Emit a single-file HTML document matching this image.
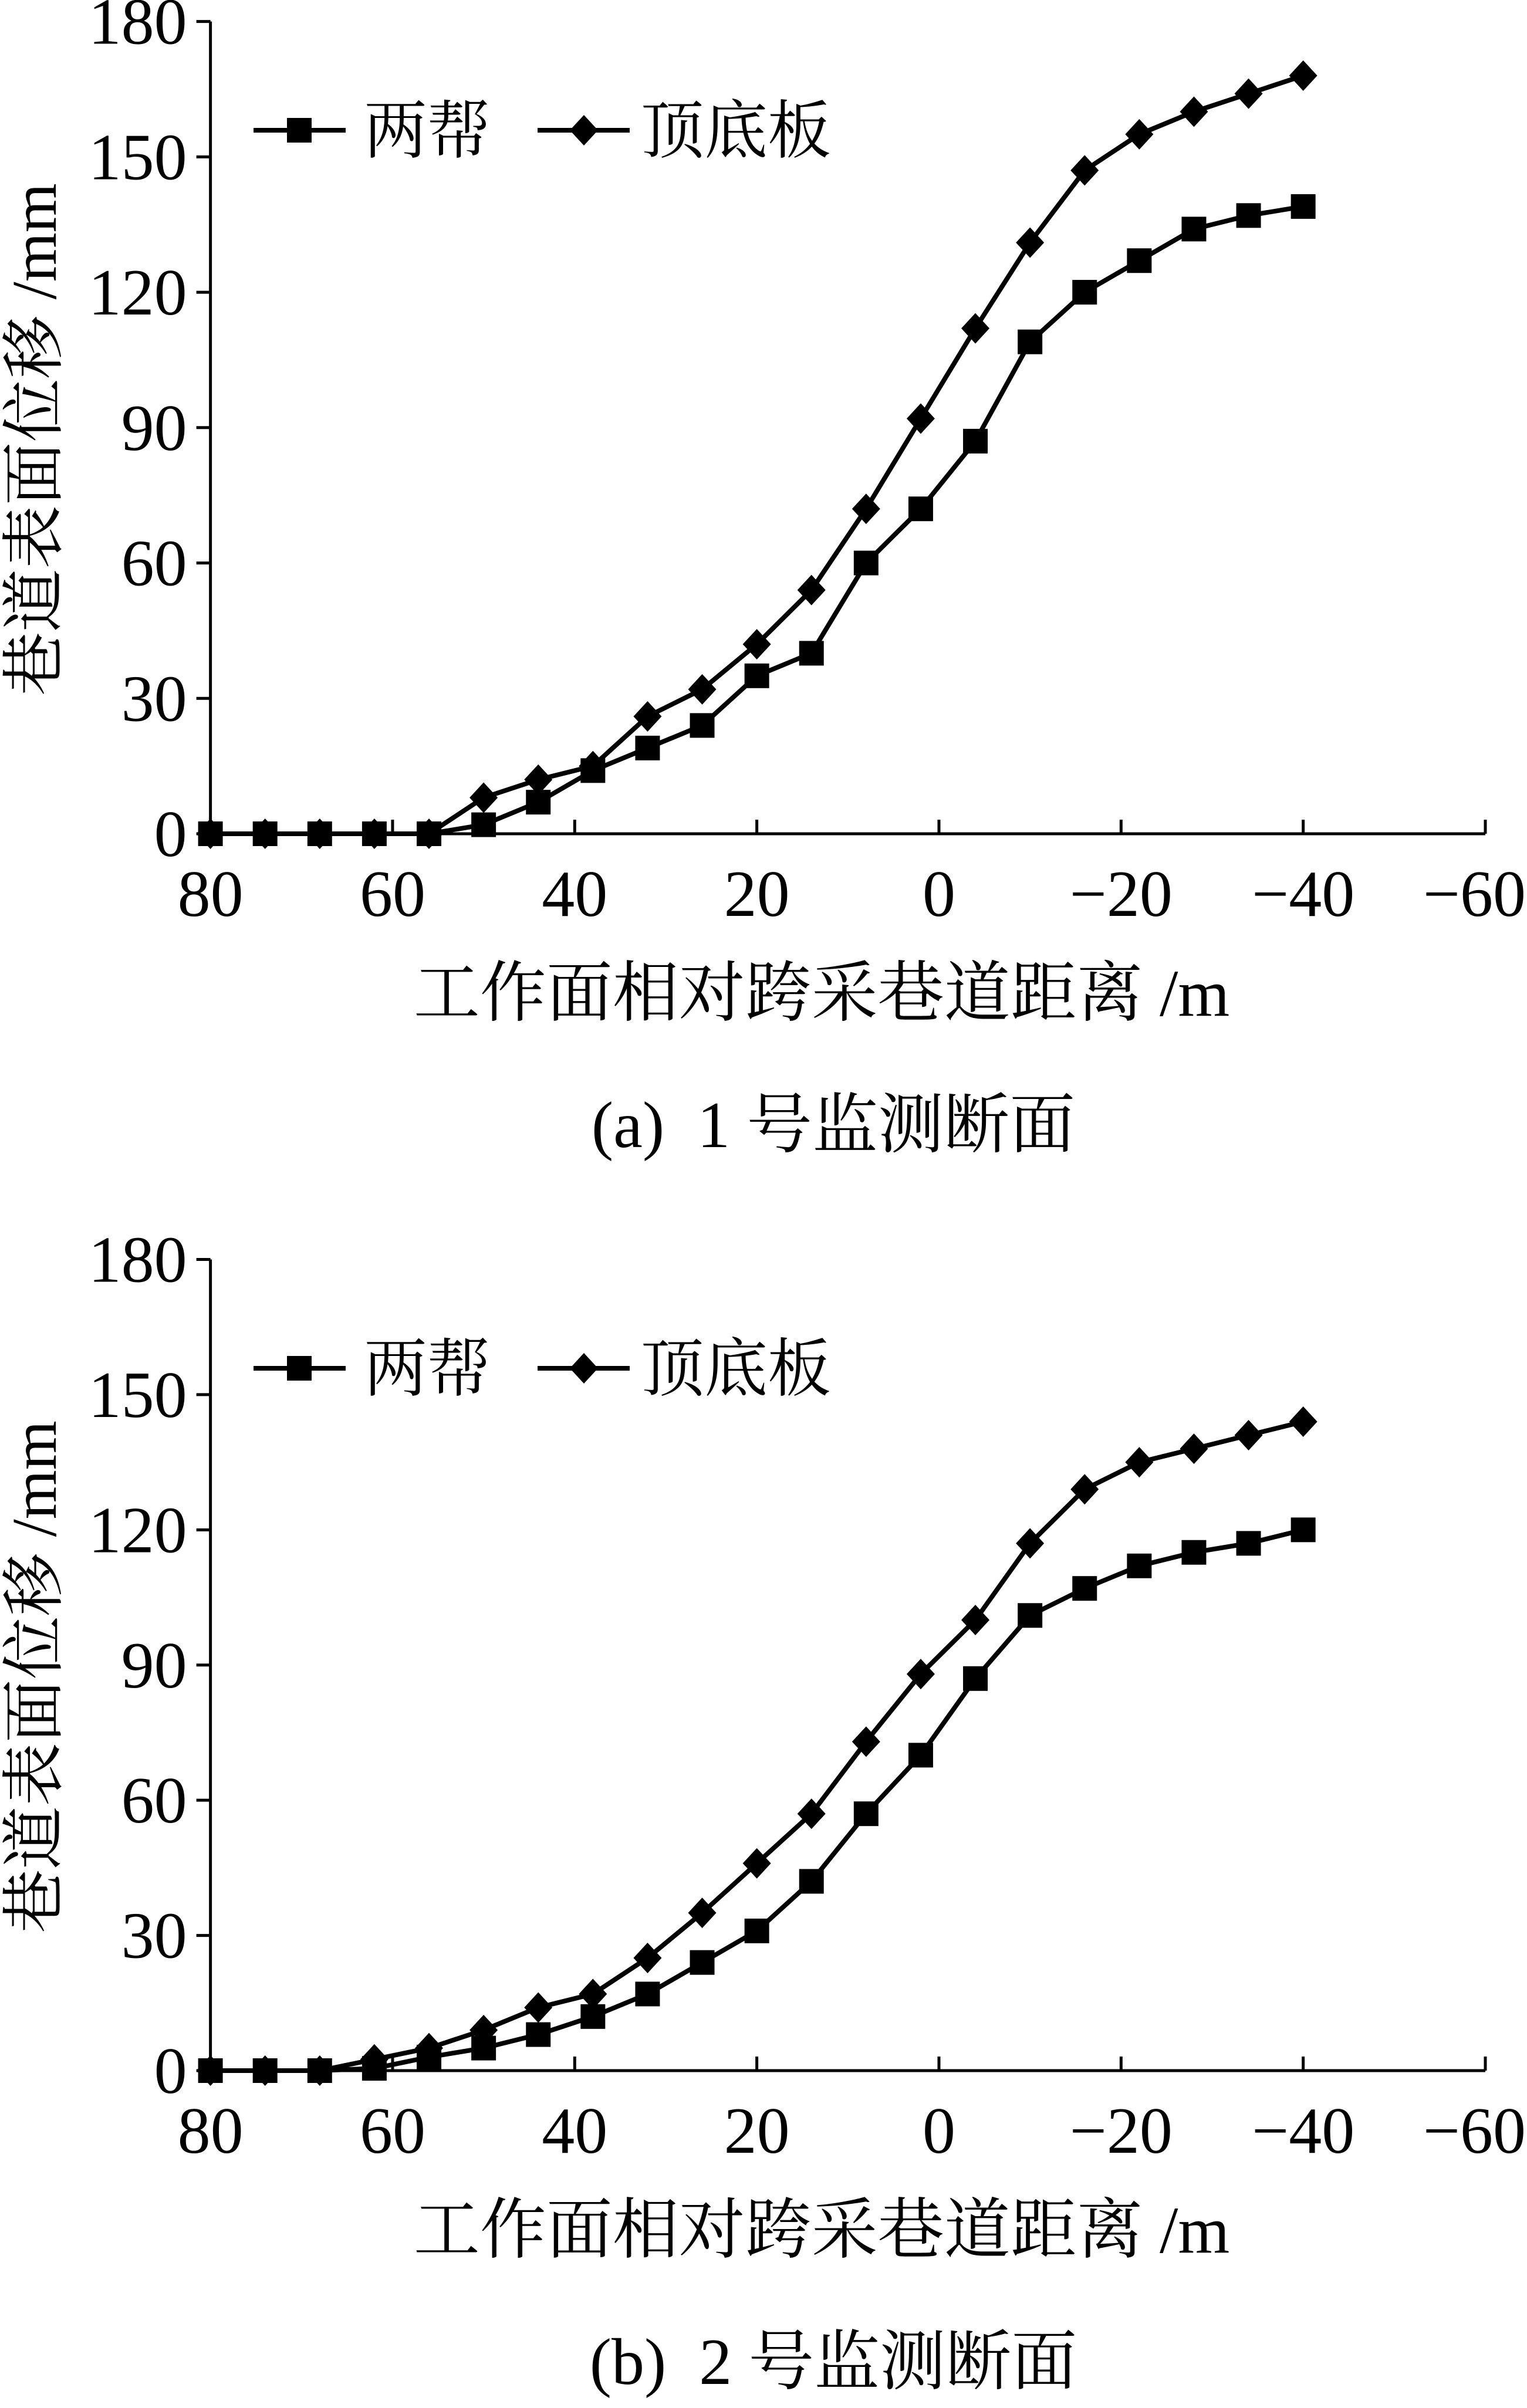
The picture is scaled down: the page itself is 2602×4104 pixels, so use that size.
<!DOCTYPE html>
<html><head><meta charset="utf-8"><style>
html,body{margin:0;padding:0;background:#fff;}
svg{display:block;}
text{font-family:"Liberation Serif","Noto Serif CJK SC","Noto Sans CJK SC",serif;fill:#000;}
</style></head><body>
<svg id="fig" width="2602" height="4104" viewBox="0 0 2602 4104" xmlns="http://www.w3.org/2000/svg"></svg>
<script>
const xValues = [80,74,68,62,56,50,44,38,32,26,20,14,8,2,-4,-10,-16,-22,-28,-34,-40];
const xTicks = [80,60,40,20,0,-20,-40,-60];
const xTickLabels = ['80','60','40','20','0','\u221220','\u221240','\u221260'];
const yTicks = [0,30,60,90,120,150,180];
const aSides = [0,0,0,0,0,2,7,14,19,24,35,40,60,72,87,109,120,127,134,137,139];
const aRoof = [0,0,0,0,0,8,12,15,26,32,42,54,72,92,112,131,147,155,160,164,168];
const bSides = [0,0,0,0.5,3,5,8,12,17,24,31,42,57,70,87,101,107,112,115,117,120];
const bRoof = [0,0,0,2.5,5,9,14,17,25,35,46,57,73,88,100,117,129,135,138,141,144];

const NS='http://www.w3.org/2000/svg';
const svg=document.getElementById('fig');
function mk(tag,attrs,parent){const e=document.createElementNS(NS,tag);for(const k in attrs)e.setAttribute(k,attrs[k]);(parent||svg).appendChild(e);return e;}

function drawChart(pfx,y0,y180,sides,roof,caption,legY){
  const X0=358.6,X1=2531;
  const xs=v=>X0+(80-v)/140*(X1-X0);
  const ys=v=>y0+(v/180)*(y180-y0);
  const g=mk('g',{});
  
  
  const ax=mk('path',{d:`M${X0} ${y180} L${X0} ${y0} L${X1} ${y0}`,stroke:'#000','stroke-width':5,fill:'none'},g);
  
  
  yTicks.forEach(t=>{
    const y=ys(t);
    const tk=mk('line',{x1:X0-24,x2:X0,y1:y,y2:y,stroke:'#000','stroke-width':5},g);
    
    
    const tl=mk('text',{x:X0-40,y:y+38,'text-anchor':'end','font-size':112},g);
    tl.textContent=String(t);
    
    
  });
  xTicks.forEach((t,i)=>{
    const x=xs(t);
    const tk=mk('line',{x1:x,x2:x,y1:y0-24,y2:y0,stroke:'#000','stroke-width':5},g);
    
    
    const last=i===xTicks.length-1;
    const tl=mk('text',{x:last?2600:x,y:y0+140,'text-anchor':last?'end':'middle','font-size':112},g);
    tl.textContent=xTickLabels[i];
    
    
  });
  function series(vals,name,kind){
    const pts=vals.map((v,i)=>[xs(xValues[i]),ys(v)]);
    const ln=mk('polyline',{points:pts.map(p=>p.join(',')).join(' '),stroke:'#000','stroke-width':8,fill:'none','stroke-linejoin':'round'},g);
    
    
    pts.forEach(p=>marker(p[0],p[1],kind,pfx+'-'+name+'-point'));
  }
  function marker(x,y,kind,name){
    let m;
    if(kind==='sq') m=mk('rect',{x:x-21,y:y-21,width:42,height:42,fill:'#000'},g);
    else m=mk('polygon',{points:`${x},${y-26} ${x+24},${y} ${x},${y+26} ${x-24},${y}`,fill:'#000'},g);
    
    
  }
  series(sides,'sides','sq');
  series(roof,'roof','di');
  const l1=mk('line',{x1:432,x2:589,y1:legY,y2:legY,stroke:'#000','stroke-width':8},g);
  
  
  marker(510,legY,'sq',pfx+'-legend-sides-marker');
  const t1=mk('text',{x:620,y:legY+38,'font-size':108},g);
  t1.textContent='两帮';
  
  
  const l2=mk('line',{x1:916,x2:1073,y1:legY,y2:legY,stroke:'#000','stroke-width':8},g);
  
  
  marker(995,legY,'di',pfx+'-legend-roof-marker');
  const t2=mk('text',{x:1092,y:legY+38,'font-size':108},g);
  t2.textContent='顶底板';
  
  
  const xt=mk('text',{x:1400,y:y0+310,'text-anchor':'middle','font-size':113},g);
  xt.textContent='工作面相对跨采巷道距离 /m';
  
  
  const yc=(y0+y180)/2+20;
  const yt=mk('text',{x:0,y:0,'text-anchor':'middle','font-size':108,transform:`translate(95 ${yc}) rotate(-90)`},g);
  yt.textContent='巷道表面位移 /mm';
  
  
  const cp=mk('text',{x:1420,y:y0+534,'text-anchor':'middle','font-size':112,'xml:space':'preserve'},g);
  cp.setAttribute('style','white-space:pre');
  cp.textContent=caption;
  
  
}
drawChart('a',1421,36.6,aSides,aRoof,'(a)  1 号监测断面',222);
drawChart('b',3529,2146.5,bSides,bRoof,'(b)  2 号监测断面',2332);
</script>
</body></html>
